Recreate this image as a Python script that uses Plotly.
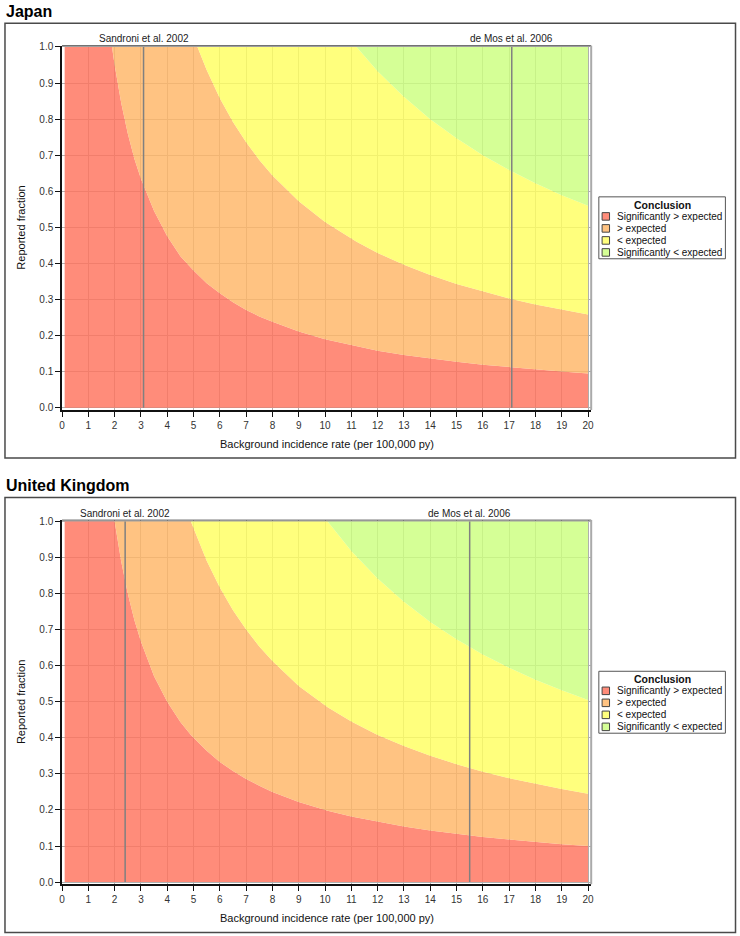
import plotly.graph_objects as go

W, H = 740, 936

# ---------------- data ----------------
panel_titles = ["Japan", "United Kingdom"]
conclusions = ["Significantly > expected", "> expected", "< expected", "Significantly < expected"]
legend_title = "Conclusion"
x_title = "Background incidence rate (per 100,000 py)"
y_title = "Reported fraction"

# Japan: background incidence rate and upper edges of each conclusion band
jp_rate = [0.1, 1.0, 1.9, 2.0, 2.25, 2.5, 2.75, 3.0, 3.5, 4.0, 4.5, 5.0, 5.15, 5.5, 6.0, 6.5,
           7.0, 7.5, 8.0, 9.0, 10.0, 11.2, 12.0, 13.0, 14.0, 15.0, 16.0, 17.0, 18.0, 19.0, 20.0]
jp_sig_high = [1.0, 1.0, 1.0, 0.95, 0.845, 0.76, 0.69, 0.635, 0.545, 0.475, 0.42, 0.38, 0.37, 0.345,
               0.317, 0.292, 0.271, 0.253, 0.238, 0.211, 0.19, 0.17, 0.158, 0.146, 0.136, 0.127,
               0.119, 0.112, 0.106, 0.10, 0.095]
jp_high = [1.0, 1.0, 1.0, 1.0, 1.0, 1.0, 1.0, 1.0, 1.0, 1.0, 1.0, 1.0, 1.0, 0.936, 0.858, 0.792,
           0.736, 0.687, 0.644, 0.572, 0.515, 0.46, 0.429, 0.396, 0.368, 0.343, 0.322, 0.303,
           0.286, 0.271, 0.258]
jp_low = [1.0, 1.0, 1.0, 1.0, 1.0, 1.0, 1.0, 1.0, 1.0, 1.0, 1.0, 1.0, 1.0, 1.0, 1.0, 1.0,
          1.0, 1.0, 1.0, 1.0, 1.0, 1.0, 0.933, 0.862, 0.80, 0.747, 0.70, 0.659, 0.622, 0.589, 0.56]

# United Kingdom
uk_rate = [0.1, 1.0, 2.0, 2.25, 2.5, 2.75, 3.0, 3.5, 4.0, 4.5, 4.9, 5.5, 6.0, 6.5, 7.0, 7.5,
           8.0, 9.0, 10.1, 11.0, 12.0, 13.0, 14.0, 15.0, 16.0, 17.0, 18.0, 19.0, 20.0]
uk_sig_high = [1.0, 1.0, 1.0, 0.889, 0.80, 0.727, 0.667, 0.571, 0.50, 0.444, 0.408, 0.364, 0.333,
               0.308, 0.286, 0.267, 0.25, 0.222, 0.198, 0.182, 0.167, 0.154, 0.143, 0.133,
               0.125, 0.118, 0.111, 0.105, 0.10]
uk_high = [1.0, 1.0, 1.0, 1.0, 1.0, 1.0, 1.0, 1.0, 1.0, 1.0, 1.0, 0.891, 0.817, 0.754, 0.70,
           0.653, 0.613, 0.544, 0.485, 0.445, 0.408, 0.377, 0.35, 0.327, 0.306, 0.288, 0.272,
           0.258, 0.245]
uk_low = [1.0, 1.0, 1.0, 1.0, 1.0, 1.0, 1.0, 1.0, 1.0, 1.0, 1.0, 1.0, 1.0, 1.0, 1.0, 1.0,
          1.0, 1.0, 1.0, 0.918, 0.842, 0.777, 0.721, 0.673, 0.631, 0.594, 0.561, 0.532, 0.505]

y_max = 1.0

study_labels = ["Sandroni et al. 2002", "de Mos et al. 2006"]
jp_study_rates = [3.1, 17.1]
uk_study_rates = [2.4, 15.5]

x_ticks = list(range(0, 21))
y_ticks = [0.0, 0.1, 0.2, 0.3, 0.4, 0.5, 0.6, 0.7, 0.8, 0.9, 1.0]
y_tick_labels = ["0.0", "0.1", "0.2", "0.3", "0.4", "0.5", "0.6", "0.7", "0.8", "0.9", "1.0"]

# ---------------- style ----------------
FONT = "Liberation Sans, Arial, sans-serif"
fill_colors = ["rgba(255,115,93,0.82)", "rgba(255,182,103,0.82)",
               "rgba(255,255,96,0.82)", "rgba(204,255,127,0.82)"]
swatch_colors = ["rgb(255,140,122)", "rgb(255,195,130)", "rgb(255,255,125)", "rgb(213,255,150)"]
GRID = "rgb(175,175,175)"


def px(p):
    return p / W


def py(p):
    return 1 - p / H


panels = [
    dict(title=panel_titles[0], rate=jp_rate, bands=[jp_sig_high, jp_high, jp_low],
         studies=jp_study_rates, off=0, xa="x", ya="y"),
    dict(title=panel_titles[1], rate=uk_rate, bands=[uk_sig_high, uk_high, uk_low],
         studies=uk_study_rates, off=478, xa="x2", ya="y2"),
]

fig = go.Figure()
shapes = []
annotations = []

PL, PR, PT, PB = 59.5, 593.0, 42.0, 409.0  # plot area pixels (Japan)

for i, p in enumerate(panels):
    off = p["off"]
    rate = p["rate"]
    uppers = p["bands"] + [[y_max] * len(rate)]
    for k, (upper, name) in enumerate(zip(uppers, conclusions)):
        fig.add_trace(go.Scatter(
            x=rate, y=upper, mode="lines", line=dict(width=0, color=fill_colors[k]),
            fill="tozeroy" if k == 0 else "tonexty", fillcolor=fill_colors[k],
            name=name, showlegend=False, hoverinfo="skip",
            xaxis=p["xa"], yaxis=p["ya"]))

    # panel box
    shapes.append(dict(type="rect", xref="paper", yref="paper",
                       x0=px(2), x1=px(738.5), y0=py(19.3 + off), y1=py(457.5 + off),
                       line=dict(color="#4a4a4a", width=1.5), layer="below"))
    # panel title
    annotations.append(dict(text="<b>%s</b>" % p["title"], xref="paper", yref="paper",
                            x=px(1), y=py(7.5 + off), xanchor="left", yanchor="middle",
                            showarrow=False, font=dict(size=16, color="#000", family=FONT)))
    # frame top & right
    shapes.append(dict(type="line", xref="paper", yref="paper", x0=px(PL), x1=px(PR),
                       y0=py(PT + off), y1=py(PT + off), line=dict(color="#555", width=1)))
    shapes.append(dict(type="line", xref="paper", yref="paper", x0=px(PR), x1=px(PR),
                       y0=py(PT + off), y1=py(PB + off), line=dict(color="#aaa", width=2)))

    # study reference lines
    for lbl, r in zip(study_labels, p["studies"]):
        shapes.append(dict(type="line", xref=p["xa"], yref=p["ya"], x0=r, x1=r, y0=0, y1=y_max,
                           line=dict(color="rgb(128,128,128)", width=1.5)))
        annotations.append(dict(text=lbl, xref=p["xa"], yref="paper", x=r, y=py(35 + off),
                                xanchor="center", yanchor="middle", showarrow=False,
                                font=dict(size=10, color="#222", family=FONT)))

    # axis titles
    annotations.append(dict(text=x_title, xref="paper", yref="paper", x=px((PL + PR) / 2),
                            y=py(443 + off), xanchor="center", yanchor="middle", showarrow=False,
                            font=dict(size=11, color="#111", family=FONT)))
    annotations.append(dict(text=y_title, xref="paper", yref="paper", x=px(18),
                            y=py((PT + PB) / 2 + off), xanchor="center", yanchor="middle",
                            textangle=-90, showarrow=False,
                            font=dict(size=11, color="#111", family=FONT)))

    # manual legend
    LX0, LX1, LY0, LY1 = 600.7, 728.3, 194.3 + off, 256.7 + off
    shapes.append(dict(type="rect", xref="paper", yref="paper", x0=px(LX0), x1=px(LX1),
                       y0=py(LY0), y1=py(LY1), line=dict(color="#555", width=1),
                       fillcolor="white"))
    annotations.append(dict(text="<b>%s</b>" % legend_title, xref="paper", yref="paper",
                            x=px((LX0 + LX1) / 2), y=py(202.5 + off), xanchor="center",
                            yanchor="middle", showarrow=False,
                            font=dict(size=10.5, color="#111", family=FONT)))
    for k, name in enumerate(conclusions):
        cy = 214 + 12.1 * k + off
        shapes.append(dict(type="rect", xref="paper", yref="paper", x0=px(604), x1=px(611.5),
                           y0=py(cy - 3.8), y1=py(cy + 3.8), fillcolor=swatch_colors[k],
                           line=dict(color="#444", width=1)))
        annotations.append(dict(text=name, xref="paper", yref="paper", x=px(617), y=py(cy),
                                xanchor="left", yanchor="middle", showarrow=False,
                                font=dict(size=10, color="#111", family=FONT)))

axis_common = dict(showgrid=True, gridcolor=GRID, gridwidth=1, zeroline=False,
                   showline=True, linecolor="#111", linewidth=1.5, ticks="outside",
                   ticklen=5, tickwidth=1, tickcolor="#111",
                   tickfont=dict(size=10, color="#333", family=FONT))

xr = [0, 20.12]
yr = [-0.0063, 1.0036]
xdom = [px(PL), px(PR)]
layout_axes = {}
for i, p in enumerate(panels):
    off = p["off"]
    xs = "xaxis" if i == 0 else "xaxis2"
    ys = "yaxis" if i == 0 else "yaxis2"
    layout_axes[xs] = dict(axis_common, domain=xdom, range=xr, tickvals=x_ticks,
                           anchor=p["ya"])
    layout_axes[ys] = dict(axis_common, domain=[py(PB + off), py(PT + off)], range=yr,
                           tickvals=y_ticks, ticktext=y_tick_labels, anchor=p["xa"])

fig.update_layout(
    width=W, height=H, margin=dict(l=0, r=0, t=0, b=0),
    paper_bgcolor="white", plot_bgcolor="white",
    font=dict(family=FONT, size=10, color="#222"),
    showlegend=False, shapes=shapes, annotations=annotations, **layout_axes)

fig.write_html("out.html", config={"displayModeBar": False},
               post_script="document.body.style.margin='0';document.body.style.overflow='hidden';")
